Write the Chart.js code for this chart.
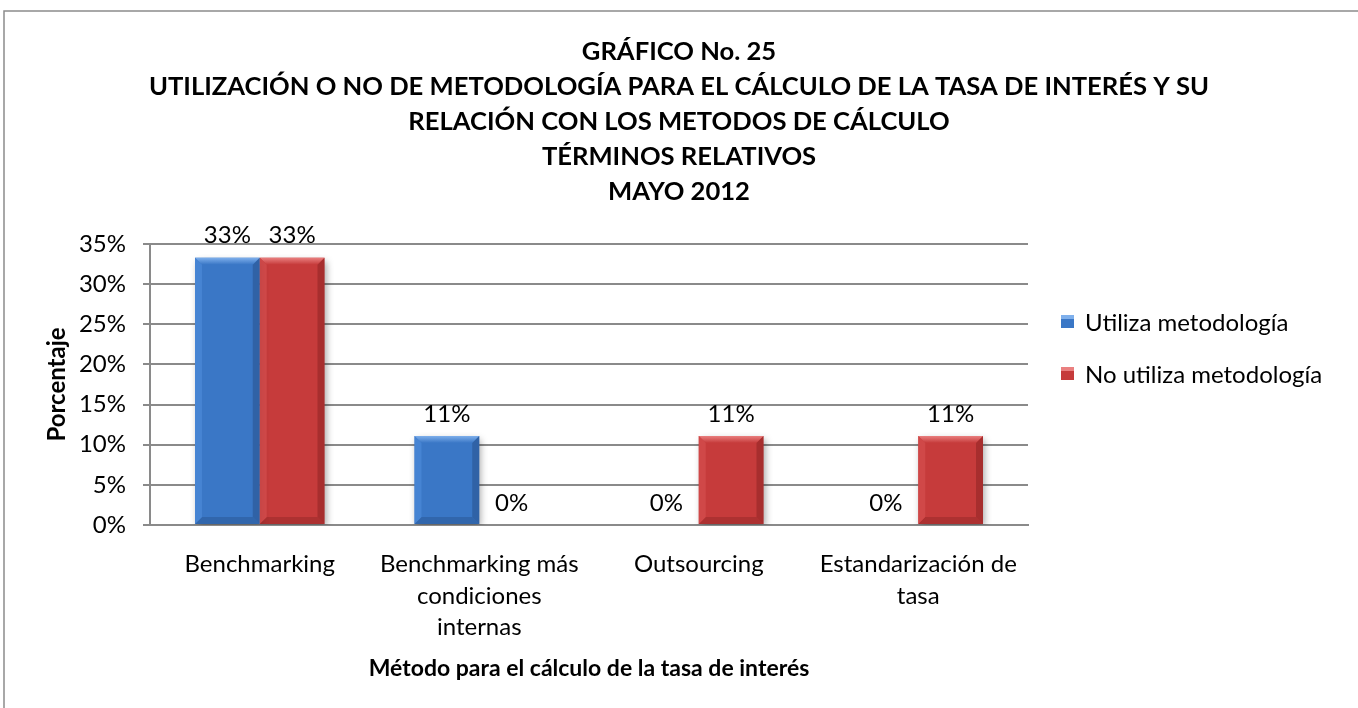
<!DOCTYPE html>
<html>
<head>
<meta charset="utf-8">
<script src="https://cdn.jsdelivr.net/npm/chart.js@4.4.1/dist/chart.umd.min.js"></script>
<style>
  body { margin: 0; background: #fff; }
  #grafico { display: block; }
</style>
</head>
<body>
<canvas id="grafico" width="1358" height="708"></canvas>
<script>
// datos del gráfico
let categorias = ['Benchmarking', ['Benchmarking más', 'condiciones', 'internas'], 'Outsourcing', ['Estandarización de', 'tasa']];
let utiliza = [33.3, 11.1, 0, 0];
let noUtiliza = [33.3, 0, 11.1, 11.1];
let nombresSeries = ['Utiliza metodología', 'No utiliza metodología'];
let ticksY = [0, 5, 10, 15, 20, 25, 30, 35];
let titulo = ['GRÁFICO No. 25', 'UTILIZACIÓN O NO DE METODOLOGÍA PARA EL CÁLCULO DE LA TASA DE INTERÉS Y SU', 'RELACIÓN CON LOS METODOS DE CÁLCULO', 'TÉRMINOS RELATIVOS', 'MAYO 2012'];

const fuente = 'Lato, "Noto Sans", sans-serif';
const colores = [
	{base: '#3a77c6', luz: '#7fb0ec', sombra: '#28528c', lado: '#4a87d6'},
	{base: '#c63b3b', luz: '#ea8080', sombra: '#8e2525', lado: '#d24c4c'}
];

// dibuja marco, título y leyenda
const decor = {
	id: 'decor',
	beforeDraw(chart) {
		let ctx = chart.ctx;
		ctx.save();
		ctx.strokeStyle = '#8c8c8c';
		ctx.lineWidth = 1.5;
		ctx.beginPath();
		ctx.moveTo(4, 708);
		ctx.lineTo(4, 11);
		ctx.lineTo(1358, 11);
		ctx.stroke();

		ctx.fillStyle = '#000';
		ctx.font = 'bold 25.6px ' + fuente;
		ctx.textAlign = 'center';
		ctx.textBaseline = 'middle';
		titulo.forEach((linea, i) => {
			ctx.fillText(linea, 679, 52 + i * 35);
		});
		ctx.restore();
	},
	beforeDatasetsDraw(chart) {
		let ctx = chart.ctx;
		ctx.save();
		ctx.shadowColor = 'rgba(0,0,0,0.35)';
		ctx.shadowBlur = 7;
		ctx.shadowOffsetX = 2;
		ctx.shadowOffsetY = 3;
	},
	afterDatasetsDraw(chart) {
		let ctx = chart.ctx;
		ctx.restore();
		ctx.save();
		chart.data.datasets.forEach((ds, d) => {
			let meta = chart.getDatasetMeta(d);
			let c = colores[d];
			meta.data.forEach((bar) => {
				let h = bar.base - bar.y;
				if (h < 2) return;
				let l = bar.x - bar.width / 2, r = bar.x + bar.width / 2;
				let t = bar.y, b = bar.base, e = 7;
				// bisel superior
				let g = ctx.createLinearGradient(0, t, 0, t + e);
				g.addColorStop(0, c.luz);
				g.addColorStop(1, c.base);
				ctx.fillStyle = g;
				ctx.beginPath();
				ctx.moveTo(l, t); ctx.lineTo(r, t); ctx.lineTo(r - e, t + e); ctx.lineTo(l + e, t + e);
				ctx.closePath(); ctx.fill();
				// lado derecho
				ctx.fillStyle = c.sombra;
				ctx.beginPath();
				ctx.moveTo(r, t); ctx.lineTo(r, b); ctx.lineTo(r - e, b - e); ctx.lineTo(r - e, t + e);
				ctx.closePath(); ctx.globalAlpha = 0.55; ctx.fill();
				// abajo
				ctx.beginPath();
				ctx.moveTo(l, b); ctx.lineTo(r, b); ctx.lineTo(r - e, b - e); ctx.lineTo(l + e, b - e);
				ctx.closePath(); ctx.globalAlpha = 0.45; ctx.fill();
				// lado izquierdo
				ctx.fillStyle = c.lado;
				ctx.beginPath();
				ctx.moveTo(l, t); ctx.lineTo(l, b); ctx.lineTo(l + e, b - e); ctx.lineTo(l + e, t + e);
				ctx.closePath(); ctx.globalAlpha = 0.8; ctx.fill();
				ctx.globalAlpha = 1;
			});
		});

		// etiquetas de valores
		ctx.fillStyle = '#000';
		ctx.font = '24px ' + fuente;
		ctx.textAlign = 'center';
		ctx.textBaseline = 'middle';
		chart.data.datasets.forEach((ds, d) => {
			let meta = chart.getDatasetMeta(d);
			meta.data.forEach((bar, i) => {
				ctx.fillText(Math.round(ds.data[i]) + '%', bar.x, bar.y - 22);
			});
		});

		// leyenda
		ctx.font = '24px ' + fuente;
		ctx.textAlign = 'left';
		chart.data.datasets.forEach((ds, d) => {
			let y = 322 + d * 52;
			let c = colores[d];
			ctx.fillStyle = c.base;
			ctx.fillRect(1061, y - 7, 13, 13);
			ctx.fillStyle = c.luz;
			ctx.fillRect(1061, y - 7, 13, 4);
			ctx.fillStyle = '#000';
			ctx.fillText(ds.label, 1085, y + 1);
		});
		ctx.restore();
	}
};

let myChart = new Chart(document.getElementById('grafico'), {
	type: 'bar',
	data: {
		labels: categorias,
		datasets: [
			{label: nombresSeries[0], data: utiliza, backgroundColor: colores[0].base},
			{label: nombresSeries[1], data: noUtiliza, backgroundColor: colores[1].base}
		]
	},
	options: {
		responsive: false,
		animation: false,
		layout: {padding: {top: 244, right: 330, bottom: 0, left: 0}},
		categoryPercentage: 0.59,
		barPercentage: 1,
		plugins: {
			legend: {display: false},
			title: {display: false},
			tooltip: {enabled: false}
		},
		scales: {
			x: {
				afterFit(scale) { scale.height = 183; },
				grid: {display: false},
				border: {display: true, color: '#8a8a8a', width: 2},
				ticks: {color: '#000', font: {family: fuente, size: 24, lineHeight: 1.3}, padding: 16, maxRotation: 0, autoSkip: false},
				title: {display: true, text: 'Método para el cálculo de la tasa de interés', color: '#000',
					font: {family: fuente, size: 23, weight: 'bold'}, padding: {top: 0, bottom: 26}}
			},
			y: {
				min: 0,
				max: 35,
				afterFit(scale) { scale.width = 150; },
				afterBuildTicks(scale) { scale.ticks = ticksY.map((v) => ({value: v})); },
				grid: {color: '#8a8a8a', lineWidth: 2, tickLength: 7},
				border: {display: true, color: '#8a8a8a', width: 2},
				ticks: {color: '#000', font: {family: fuente, size: 24}, padding: 17, callback: (v) => v + '%'},
				title: {display: true, text: 'Porcentaje', color: '#000',
					font: {family: fuente, size: 24, weight: 'bold'}, padding: {top: 43, bottom: 0}}
			}
		}
	},
	plugins: [decor]
});
</script>
</body>
</html>
